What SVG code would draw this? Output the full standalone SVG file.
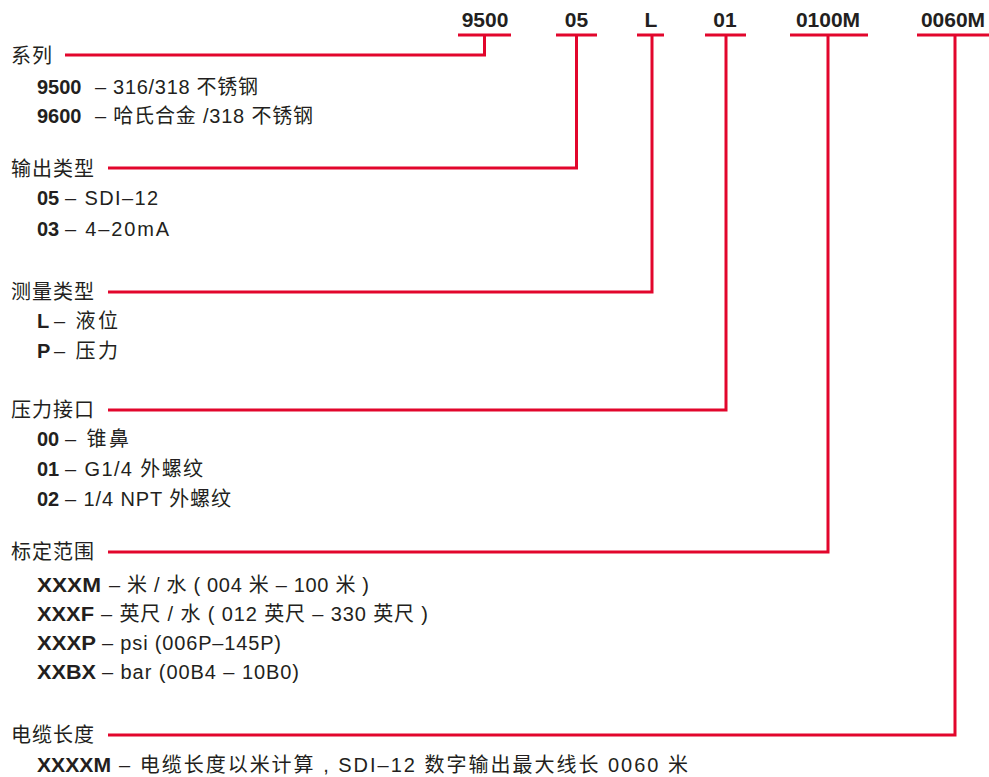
<svg xmlns="http://www.w3.org/2000/svg" width="989" height="777" viewBox="0 0 989 777">
<style>
text{font-family:"Liberation Sans","Noto Sans CJK SC",sans-serif;fill:#231f20;}
.hd{font-size:21px;font-weight:bold;text-anchor:middle;}
.lb{font-size:20px;letter-spacing:1px;}
.it{font-size:20px;}
.b{font-size:20px;font-weight:bold;}
.ln{fill:none;stroke:#e2062c;stroke-width:3;}
</style>
<rect width="989" height="777" fill="#fff"/>
<g id="connectors">
<path class="ln" d="M458 35H511M484.5 35V55H65"/>
<path class="ln" d="M556 35H597M576.5 35V168H108"/>
<path class="ln" d="M637 35H664M652 35V292H108"/>
<path class="ln" d="M705 35H746M726 35V410H108"/>
<path class="ln" d="M790 35H868M828 35V552H108"/>
<path class="ln" d="M917 35H989M955 35V735H108"/>
</g>
<g id="header">
<text class="hd" x="485" y="27">9500</text>
<text class="hd" x="576.5" y="27">05</text>
<text class="hd" x="651" y="27">L</text>
<text class="hd" x="725" y="27">01</text>
<text class="hd" x="828" y="27">0100M</text>
<text class="hd" x="953" y="27">0060M</text>
</g>
<g id="series">
<text class="lb" x="11" y="63">系列</text>
<text class="b" x="37" y="94">9500</text>
<text class="it" x="95" y="94" textLength="163" lengthAdjust="spacing">– 316/318 不锈钢</text>
<text class="b" x="37" y="123">9600</text>
<text class="it" x="95" y="123" textLength="218" lengthAdjust="spacing">– 哈氏合金 /318 不锈钢</text>
</g>
<g id="output">
<text class="lb" x="11" y="176">输出类型</text>
<text class="b" x="37" y="205">05</text>
<text class="it" x="65" y="205" textLength="93" lengthAdjust="spacing">– SDI–12</text>
<text class="b" x="37" y="236">03</text>
<text class="it" x="65" y="236" textLength="104" lengthAdjust="spacing">– 4–20mA</text>
</g>
<g id="measure">
<text class="lb" x="11" y="299">测量类型</text>
<text class="b" x="37" y="328">L</text>
<text class="it" x="54" y="328" textLength="64" lengthAdjust="spacing">– 液位</text>
<text class="b" x="37" y="358">P</text>
<text class="it" x="54" y="358" textLength="64" lengthAdjust="spacing">– 压力</text>
</g>
<g id="port">
<text class="lb" x="11" y="417">压力接口</text>
<text class="b" x="37" y="446">00</text>
<text class="it" x="65" y="446" textLength="64" lengthAdjust="spacing">– 锥鼻</text>
<text class="b" x="37" y="476">01</text>
<text class="it" x="65" y="476" textLength="138" lengthAdjust="spacing">– G1/4 外螺纹</text>
<text class="b" x="37" y="506">02</text>
<text class="it" x="65" y="506" textLength="166" lengthAdjust="spacing">– 1/4 NPT 外螺纹</text>
</g>
<g id="range">
<text class="lb" x="11" y="559">标定范围</text>
<text class="b" x="37" y="592" textLength="64" lengthAdjust="spacingAndGlyphs">XXXM</text>
<text class="it" x="109" y="592" textLength="260" lengthAdjust="spacing">– 米 / 水 ( 004 米 – 100 米 )</text>
<text class="b" x="37" y="621" textLength="57" lengthAdjust="spacingAndGlyphs">XXXF</text>
<text class="it" x="101" y="621" textLength="327" lengthAdjust="spacing">– 英尺 / 水 ( 012 英尺 – 330 英尺 )</text>
<text class="b" x="37" y="650" textLength="59" lengthAdjust="spacingAndGlyphs">XXXP</text>
<text class="it" x="102" y="650" textLength="179" lengthAdjust="spacing">– psi (006P–145P)</text>
<text class="b" x="37" y="679" textLength="59" lengthAdjust="spacingAndGlyphs">XXBX</text>
<text class="it" x="102" y="679" textLength="197" lengthAdjust="spacing">– bar (00B4 – 10B0)</text>
</g>
<g id="cable">
<text class="lb" x="11" y="742">电缆长度</text>
<text class="b" x="37" y="772" textLength="74" lengthAdjust="spacingAndGlyphs">XXXXM</text>
<text class="it" x="119" y="772" textLength="569" lengthAdjust="spacing">– 电缆长度以米计算 , SDI–12 数字输出最大线长 0060 米</text>
</g>
</svg>
